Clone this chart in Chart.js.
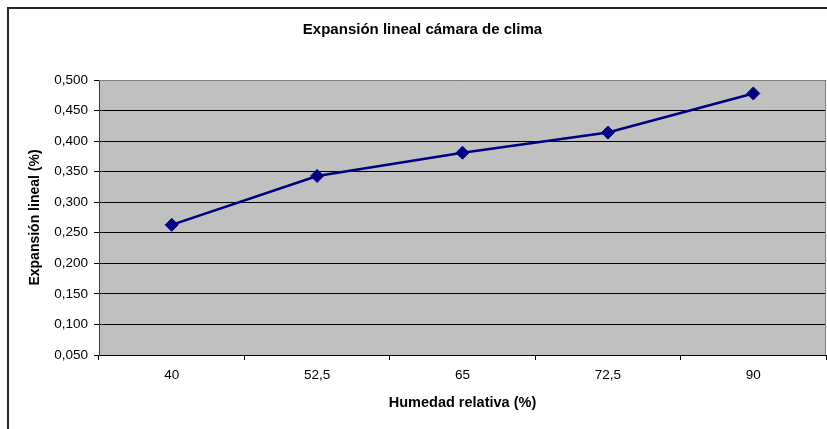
<!DOCTYPE html>
<html>
<head>
<meta charset="utf-8">
<script src="https://cdn.jsdelivr.net/npm/chart.js@4/dist/chart.umd.min.js"></script>
<style>
  html, body { margin: 0; padding: 0; background: #ffffff; }
  #wrap { width: 827px; height: 429px; }
</style>
</head>
<body>
<div id="wrap"><canvas id="c" width="827" height="429"></canvas></div>
<script>
// Humedad relativa (categorías) y expansión lineal medida (%)
const categories = ['40', '52,5', '65', '72,5', '90'];
const expansion = [0.263, 0.343, 0.381, 0.414, 0.478];
const yMin = 0.05;
const yMax = 0.5;
const yStep = 0.05;

const FONT = "'Liberation Sans', Arial, sans-serif";

// Fondo blanco, marco exterior y área de trazado gris
const frame = {
  id: 'frame',
  beforeDraw(chart) {
    const { ctx, chartArea: a, width, height } = chart;
    ctx.save();
    ctx.fillStyle = '#ffffff';
    ctx.fillRect(0, 0, width, height);
    ctx.strokeStyle = '#262626';
    ctx.lineWidth = 2;
    ctx.beginPath();
    ctx.moveTo(8, height);
    ctx.lineTo(8, 8);
    ctx.lineTo(width, 8);
    ctx.stroke();
    ctx.fillStyle = '#c0c0c0';
    ctx.fillRect(a.left, a.top, a.right - a.left, a.bottom - a.top);
    ctx.restore();
  },
  beforeDatasetsDraw(chart) {
    const { ctx, chartArea: a } = chart;
    ctx.save();
    ctx.strokeStyle = '#808080';
    ctx.lineWidth = 1;
    ctx.beginPath();
    ctx.moveTo(a.left, a.top + 0.5);
    ctx.lineTo(a.right - 0.5, a.top + 0.5);
    ctx.lineTo(a.right - 0.5, a.bottom);
    ctx.stroke();
    ctx.restore();
  }
};

new Chart(document.getElementById('c'), {
  type: 'line',
  data: {
    labels: categories,
    datasets: [{
      data: expansion,
      borderColor: '#000080',
      backgroundColor: '#000080',
      borderWidth: 2.5,
      pointStyle: 'rectRot',
      pointRadius: 6.5,
      pointBorderWidth: 1,
      pointBorderColor: '#000080',
      pointBackgroundColor: '#000080',
      tension: 0,
      fill: false
    }]
  },
  options: {
    responsive: false,
    animation: false,
    devicePixelRatio: 1,
    layout: { autoPadding: false, padding: { left: 19, right: 1, top: 0, bottom: 0 } },
    plugins: {
      legend: { display: false },
      tooltip: { enabled: false },
      title: {
        display: true,
        text: 'Expansión lineal cámara de clima',
        color: '#000000',
        font: { family: FONT, size: 15, weight: 'bold', lineHeight: 1.2 },
        padding: { top: 20.5, bottom: 41.5 }
      }
    },
    scales: {
      x: {
        type: 'category',
        offset: true,
        afterFit(scale) {
          scale.height = 74;
          scale.paddingLeft = 0;
          scale.paddingRight = 0;
        },
        grid: {
          offset: true,
          drawOnChartArea: false,
          drawTicks: true,
          tickLength: 5,
          tickColor: '#000000'
        },
        border: { display: true, color: '#000000', width: 1 },
        ticks: {
          color: '#000000',
          padding: 7,
          maxRotation: 0,
          font: { family: FONT, size: 13.5 }
        },
        title: {
          display: true,
          text: 'Humedad relativa (%)',
          color: '#000000',
          font: { family: FONT, size: 14.5, weight: 'bold', lineHeight: 1.2 },
          padding: { top: 0, bottom: 17.3 }
        }
      },
      y: {
        min: yMin,
        max: yMax,
        afterFit(scale) { scale.width = 80; },
        grid: {
          color: '#000000',
          lineWidth: 1,
          drawTicks: true,
          tickLength: 5,
          tickColor: '#000000'
        },
        border: { display: true, color: '#404040', width: 1 },
        ticks: {
          stepSize: yStep,
          color: '#000000',
          padding: 6,
          font: { family: FONT, size: 13.5 },
          callback: (v) => Number(v).toFixed(3).replace('.', ',')
        },
        title: {
          display: true,
          text: 'Expansión lineal (%)',
          color: '#000000',
          font: { family: FONT, size: 14, weight: 'bold', lineHeight: 1.2 },
          padding: { top: 7.6, bottom: 0 }
        }
      }
    }
  },
  plugins: [frame]
});
</script>
</body>
</html>
